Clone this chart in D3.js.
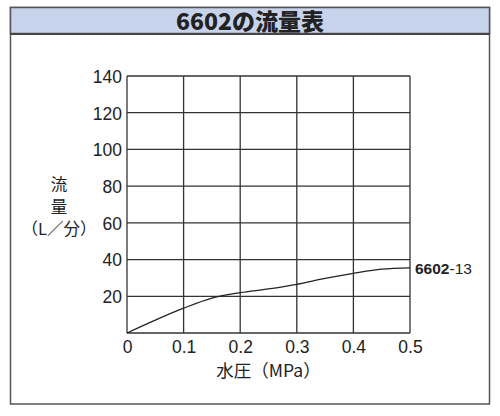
<!DOCTYPE html>
<html>
<head>
<meta charset="utf-8">
<script src="https://cdn.jsdelivr.net/npm/d3@7"></script>
<style>
html,body{margin:0;padding:0;background:#fff;}
svg{display:block;}
</style>
</head>
<body>
<svg id="chart" width="500" height="416"></svg>
<script>
const title = "6602の流量表";
const xTicks = [0, 0.1, 0.2, 0.3, 0.4, 0.5];
const yTicks = [20, 40, 60, 80, 100, 120, 140];
const pressure = [0, 0.05, 0.1, 0.15, 0.2, 0.25, 0.3, 0.35, 0.4, 0.45, 0.5];
const flow = [0, 7, 13.5, 19, 22, 24, 26.5, 29.7, 32.5, 34.8, 35.5];
const seriesBold = "6602";
const seriesRest = "-13";
const xTitle = "水圧（MPa）";
const yTitleLines = ["流", "量", "（L／分）"];

const svg = d3.select("#chart");
const font = "'Liberation Sans', Arial, 'Noto Sans CJK JP', sans-serif";

// outer frame
svg.append("rect").attr("x", 10.5).attr("y", 7.5).attr("width", 479).attr("height", 396.5)
  .attr("fill", "#fff").attr("stroke", "#555").attr("stroke-width", 1.5);
svg.append("rect").attr("x", 10.5).attr("y", 7.5).attr("width", 479).attr("height", 26)
  .attr("fill", "#c7d3eb").attr("stroke", "#555").attr("stroke-width", 1.5);
svg.append("line").attr("x1", 10).attr("x2", 490).attr("y1", 34).attr("y2", 34)
  .attr("stroke", "#444").attr("stroke-width", 2);
svg.append("text").attr("x", 250).attr("y", 29.5).attr("text-anchor", "middle")
  .attr("font-family", "'Noto Sans CJK JP', sans-serif").attr("font-weight", "900")
  .attr("font-size", 23).attr("fill", "#222").text(title);

const x = d3.scaleLinear().domain([0, 0.5]).range([127, 410]);
const y = d3.scaleLinear().domain([0, 140]).range([333, 76]);

const g = svg.append("g");
// grid
g.selectAll(".vg").data(xTicks).join("line")
  .attr("x1", d => x(d)).attr("x2", d => x(d)).attr("y1", y(0)).attr("y2", y(140))
  .attr("stroke", "#333").attr("stroke-width", 1.3);
g.selectAll(".hg").data([0].concat(yTicks)).join("line")
  .attr("x1", x(0)).attr("x2", x(0.5)).attr("y1", d => y(d)).attr("y2", d => y(d))
  .attr("stroke", "#333").attr("stroke-width", 1.3);

// axes via d3 axis (labels only)
const xAxis = d3.axisBottom(x).tickValues(xTicks).tickSize(0).tickPadding(0)
  .tickFormat(d => d === 0 ? "0" : d3.format(".1f")(d));
const xa = svg.append("g").attr("transform", `translate(0,${y(0)})`).call(xAxis);
xa.select(".domain").remove();
xa.selectAll("text").attr("font-family", font).attr("font-size", 17.5).attr("fill", "#222")
  .attr("dy", null).attr("y", 20);

const yAxis = d3.axisLeft(y).tickValues(yTicks).tickSize(0).tickPadding(0);
const ya = svg.append("g").attr("transform", `translate(${x(0) - 5},0)`).call(yAxis);
ya.select(".domain").remove();
ya.selectAll("text").attr("font-family", font).attr("font-size", 17.5).attr("fill", "#222")
  .attr("dy", "0.36em");

// curve
const pts = pressure.map((p, i) => [p, flow[i]]);
const line = d3.line().x(d => x(d[0])).y(d => y(d[1])).curve(d3.curveMonotoneX);
svg.append("path").attr("d", line(pts)).attr("fill", "none")
  .attr("stroke", "#222").attr("stroke-width", 1.3);

// series label
const lab = svg.append("text").attr("x", 415).attr("y", y(flow[flow.length - 1]) + 6.5)
  .attr("font-family", font).attr("font-size", 15.5).attr("fill", "#222");
lab.append("tspan").attr("font-weight", "bold").text(seriesBold);
lab.append("tspan").attr("font-family", "'Liberation Sans Narrow', 'Liberation Sans', Arial, sans-serif").text(seriesRest);

// axis titles
svg.append("text").attr("x", x(0.25)).attr("y", 377).attr("text-anchor", "middle")
  .attr("font-family", "'Noto Sans CJK JP', sans-serif").attr("font-size", 17.5).attr("fill", "#222")
  .text(xTitle);
const yt = svg.append("text").attr("text-anchor", "middle")
  .attr("font-family", "'Noto Sans CJK JP', sans-serif").attr("font-size", 16.5).attr("fill", "#222");
yTitleLines.forEach((t, i) => {
  yt.append("tspan").attr("x", 59).attr("y", 191 + i * 22).text(t);
});
</script>
</body>
</html>
